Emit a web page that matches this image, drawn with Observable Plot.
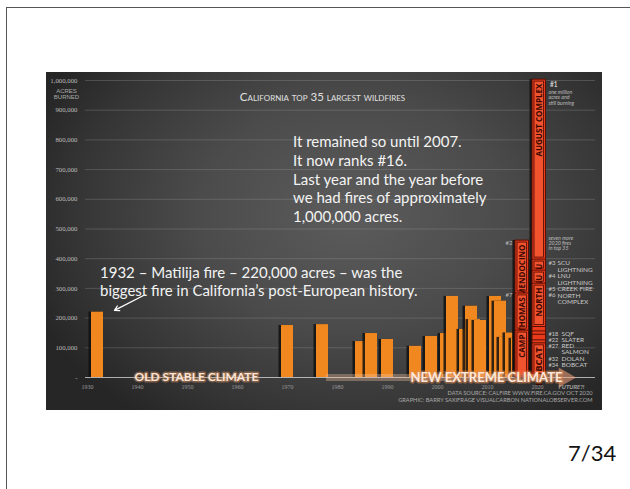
<!DOCTYPE html>
<html><head><meta charset="utf-8">
<script src="https://cdn.jsdelivr.net/npm/d3@7"></script>
<script src="https://cdn.jsdelivr.net/npm/@observablehq/plot@0.6"></script>
<style>
html,body{margin:0;padding:0;background:#fff;}
body{width:630px;height:489px;overflow:hidden;position:relative;font-family:Lato,"Open Sans",sans-serif;}
#frame{position:absolute;left:6px;top:7px;width:640px;height:500px;border-left:1.5px solid #555;border-top:1.5px solid #555;}
#panel{position:absolute;left:46px;top:72px;width:556px;height:338px;overflow:hidden;
  background:radial-gradient(ellipse 62% 75% at 55% 42%, #5c5c5c 0%, #4b4b4b 45%, #353535 80%, #262626 100%);}
#panel svg{position:absolute;left:0;top:0;}
.note{position:absolute;color:#f3f3f3;font-size:15px;white-space:nowrap;}
#n1{left:293px;top:132px;line-height:18.8px;}
#n2{left:100px;top:263px;line-height:18px;}
#page{position:absolute;left:568px;top:439px;font-size:22px;line-height:28px;color:#111;}
</style></head><body>
<div id="frame"></div>
<div id="panel"></div>
<div class="note" id="n1">It remained so until 2007.<br>It now ranks #16.<br>Last year and the year before<br>we had fires of approximately<br>1,000,000 acres.</div>
<div class="note" id="n2">1932 – Matilija fire – 220,000 acres – was the<br>biggest fire in California’s post-European history.</div>
<div id="page">7/34</div>
<script>
// ---- data ----
const tickYears = [1930, 1940, 1950, 1960, 1970, 1980, 1990, 2000, 2010, 2020];
const yTicks = [0, 100000, 200000, 300000, 400000, 500000, 600000, 700000, 800000, 900000, 1000000];

// orange bars (before 2017): position (year) and acres
const orangeYear  = [1932, 1970, 1977, 1984.8, 1986.8, 1990, 1995.6, 1998.8, 2001.8, 2003, 2005.6, 2006.8, 2007.4, 2008.6, 2011.6, 2012.6, 2013.6, 2014.8, 2016];
const orangeAcres = [220000, 175000, 178000, 121000, 148000, 128000, 105000, 138000, 148000, 273000, 162000, 240000, 195000, 192000, 273000, 257000, 135000, 150000, 132000];

// red bars (2017 onward), back to front within each column
const redYear  = [2016.8, 2016.8, 2016.8, 2020.2, 2020.2, 2020.2, 2020.2, 2020.2, 2020.2, 2020.2, 2020.2, 2020.2];
const redAcres = [461000, 283000, 158000, 1003000, 397000, 360000, 316000, 170000, 155000, 144000, 125000, 115000];
const redLabel = ["MENDOCINO", "THOMAS", "CAMP", "AUGUST COMPLEX", "U", "NU", "NORTH", "", "", "", "", "BOBCAT"];

const rankTags1  = ["#3", "", "#4", "", "#5", "#6", ""];
const rankNames1 = ["SCU", "LIGHTNING", "LNU", "LIGHTNING", "CREEK FIRE", "NORTH", "COMPLEX"];
const rankTags2  = ["#18", "#22", "#27", "", "#32", "#34"];
const rankNames2 = ["SQF", "SLATER", "RED", "SALMON", "DOLAN", "BOBCAT"];

const orange = orangeYear.map((yr, i) => ({yr, acres: orangeAcres[i]}));
const red = redYear.map((yr, i) => ({
  yr, acres: redAcres[i], label: redLabel[i],
  floor: (i + 1 < redYear.length && redYear[i + 1] === yr) ? redAcres[i + 1] : 0
}));

const OW = 2.4, RW = 2.7;
const fmt = d3.format(",");

const marks = [
  Plot.gridY(yTicks.filter(d => d > 0), {stroke: "#a0a0a0", strokeOpacity: 0.3}),
  Plot.axisY(yTicks, {anchor: "left", tickSize: 0, tickPadding: 8, fontSize: 6.8, color: "#bdbdbd",
    fontFamily: "Liberation Serif", tickFormat: d => d === 0 ? "-" : fmt(d)}),
  Plot.text(["ACRES\nBURNED"], {x: 1927.0, y: 955000, fontSize: 6, lineHeight: 1.1, fill: "#a9a9a9", fontFamily: "Liberation Sans"}),
  Plot.text(["California top 35 largest wildfires"], {x: 1978.2, y: 943000, fontSize: 11.5, fontVariant: "small-caps", fill: "#e0e0e0", fontFamily: "Lato"}),
  Plot.ruleY([0], {stroke: "#dcdcdc", strokeOpacity: 0.75}),
  Plot.axisX(tickYears, {anchor: "bottom", tickSize: 0, tickPadding: 7, dx: 6, fontSize: 6, color: "#9a9a9a",
    fontFamily: "Liberation Serif", tickFormat: d => String(d)}),
  Plot.text(["FUTURE?!"], {x: 2028.0, y: 0, dy: 9.5, fontSize: 6, fontStyle: "italic", fontWeight: "bold", fill: "#a5a5a5", fontFamily: "Lato"}),
  // orange bars with left shadows
  ...orange.flatMap(d => [
    Plot.rectY([d], {x1: "yr", x2: e => e.yr + OW, y: "acres", fill: "#111", fillOpacity: 0.85, dx: -2.5}),
    Plot.rectY([d], {x1: "yr", x2: e => e.yr + OW, y: "acres", fill: "#f0871f"})
  ]),
  // red bars
  ...red.flatMap(d => {
    const m = [
      Plot.rectY([d], {x1: "yr", x2: e => e.yr + RW, y: "acres", fill: "#111", fillOpacity: 0.85, dx: -2.5}),
      Plot.rectY([d], {x1: "yr", x2: e => e.yr + RW, y: "acres", fill: "#ea3a1c", stroke: "#5a1004", strokeWidth: 1})
    ];
    if (d.label) {
      m.push(Plot.rect([d], {x1: "yr", x2: e => e.yr + RW, y1: "floor", y2: "acres", inset: 2,
        fill: "#f2532f", stroke: "#4a0b02", strokeWidth: 0.8}));
      m.push(Plot.text([d], {x: e => e.yr + RW / 2, y: "acres", text: "label", rotate: -90, textAnchor: "end",
        dy: 4, fontSize: d.label === "BOBCAT" ? 9.5 : 8, fontWeight: "bold", fill: "#3a0700", fontFamily: "Open Sans"}));
    }
    return m;
  }),
  // rank tags beside bars
  Plot.text([red[0]], {x: "yr", y: "acres", text: () => "#2", textAnchor: "end", dx: -3, dy: 2, fontSize: 6, fill: "#bbb", fontFamily: "Lato"}),
  Plot.text([red[1]], {x: "yr", y: "acres", text: () => "#7", textAnchor: "end", dx: -3, dy: 2, fontSize: 6, fill: "#bbb", fontFamily: "Lato"}),
  Plot.text([red[3]], {x: e => e.yr + RW, y: "acres", text: () => "#1", textAnchor: "start", dx: 4, dy: 5, fontSize: 6.5, fontWeight: "bold", fill: "#cfcfcf", fontFamily: "Lato"}),
  // right-hand notes
  Plot.text(["one million\nacres and\nstill burning"], {x: 2023.4, y: 967000, lineAnchor: "top", textAnchor: "start", lineHeight: 1.0,
    fontSize: 5.3, fontStyle: "italic", fill: "#bdbdbd", fontFamily: "Lato"}),
  Plot.text(["seven more\n2020 fires\nin top 35"], {x: 2023.4, y: 477000, lineAnchor: "top", textAnchor: "start", lineHeight: 1.0,
    fontSize: 5.3, fontStyle: "italic", fill: "#bdbdbd", fontFamily: "Lato"}),
  Plot.text([rankTags1.join("\n")], {x: 2023.4, y: 394000, lineAnchor: "top", textAnchor: "start", lineHeight: 1.08,
    fontSize: 6, fill: "#c8c8c8", fontFamily: "Lato"}),
  Plot.text([rankNames1.join("\n")], {x: 2025.2, y: 394000, lineAnchor: "top", textAnchor: "start", lineHeight: 1.0,
    fontSize: 6.5, fill: "#c8c8c8", fontFamily: "Lato"}),
  Plot.text([rankTags2.join("\n")], {x: 2023.4, y: 153000, lineAnchor: "top", textAnchor: "start", lineHeight: 1.08,
    fontSize: 5.6, fill: "#c8c8c8", fontFamily: "Lato"}),
  Plot.text([rankNames2.join("\n")], {x: 2026.0, y: 153000, lineAnchor: "top", textAnchor: "start", lineHeight: 0.93,
    fontSize: 6.5, fill: "#c8c8c8", fontFamily: "Lato"}),
  // climate band
  Plot.ruleY([0], {x1: 1979, x2: 2025.5, stroke: "#f6c3a2", strokeOpacity: 0.35, strokeWidth: 7}),
  Plot.dot([0], {x: () => 2026.6, y: d => d, symbol: "triangle", rotate: 90, r: 7.5, fill: "#f2a27a", fillOpacity: 0.55, stroke: "none"}),
  Plot.text(["OLD STABLE CLIMATE"], {x: 1953, y: 0, fontSize: 12, fontWeight: "bold", fill: "#fbe6d8",
    stroke: "#d99060", strokeWidth: 3, strokeOpacity: 0.45, fontFamily: "Lato"}),
  Plot.text(["NEW EXTREME CLIMATE"], {x: 2011.0, y: 0, fontSize: 13, fontWeight: "bold", fill: "#fde8da",
    stroke: "#e08a55", strokeWidth: 3, strokeOpacity: 0.5, fontFamily: "Lato"}),
  // credits
  Plot.text(["DATA SOURCE: CALFIRE WWW.FIRE.CA.GOV OCT 2020"], {frameAnchor: "bottom-right", dx: -3, dy: 17,
    fontSize: 5.7, fill: "#a8a8a8", fontFamily: "Lato"}),
  Plot.text(["GRAPHIC: BARRY SAXIFRAGE VISUALCARBON NATIONALOBSERVER.COM"], {frameAnchor: "bottom-right", dx: -3, dy: 24,
    fontSize: 5.7, fill: "#a8a8a8", fontFamily: "Lato"}),
  // pointer arrow from the Matilija note
  Plot.arrow([{a: 1942.4, b: 276000, c: 1936.6, d: 226000}], {x1: "a", y1: "b", x2: "c", y2: "d",
    stroke: "#ffffff", strokeWidth: 1.3, headLength: 6})
];

const chart = Plot.plot({
  width: 556, height: 338,
  marginTop: 8, marginBottom: 33, marginLeft: 39, marginRight: 7,
  style: {background: "transparent", overflow: "visible", color: "#bbb"},
  x: {domain: [1930.8, 2032.8], axis: null},
  y: {domain: [0, 1000000], axis: null},
  marks
});
document.getElementById("panel").appendChild(chart);
</script>
</body></html>
